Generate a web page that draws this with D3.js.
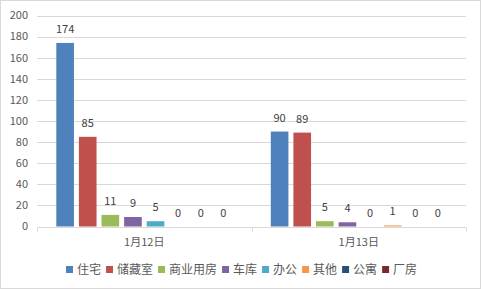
<!DOCTYPE html>
<html>
<head>
<meta charset="utf-8">
<script src="https://cdn.jsdelivr.net/npm/d3@7"></script>
<style>
  body { margin: 0; background: #fff; }
  svg { display: block; font-family: "Noto Sans CJK SC", "Noto Sans", sans-serif; }
</style>
</head>
<body>
<svg id="chart" width="481" height="289"></svg>
<script>
const dates = ["1月12日", "1月13日"];
const types = ["住宅", "储藏室", "商业用房", "车库", "办公", "其他", "公寓", "厂房"];
const jan12 = [174, 85, 11, 9, 5, 0, 0, 0];
const jan13 = [90, 89, 5, 4, 0, 1, 0, 0];
const yTicks = [0, 20, 40, 60, 80, 100, 120, 140, 160, 180, 200];
const colors = ["#4F81BD", "#C0504D", "#9BBB59", "#8064A2", "#4BACC6", "#F79646", "#2C4D75", "#772C2A"];

const values = [jan12, jan13];
const svg = d3.select("#chart");
const W = 481, H = 289;

// outer border
svg.append("rect")
  .attr("x", 0.5).attr("y", 0.5)
  .attr("width", W - 1).attr("height", H - 1)
  .attr("fill", "#fff").attr("stroke", "#d9d9d9");

const plotL = 37, plotR = 466, plotT = 15.5, plotB = 226.5;

const y = d3.scaleLinear().domain([0, 200]).range([plotB, plotT]);
const x0 = d3.scaleBand().domain(dates).range([plotL, plotR]);
const bw = x0.bandwidth();
const x1 = d3.scaleBand().domain(types)
  .range([bw * 0.09, bw * 0.91])
  .paddingInner(0.22);

// gridlines
svg.append("g")
  .selectAll("line")
  .data(yTicks.slice(1))
  .join("line")
  .attr("x1", plotL).attr("x2", plotR)
  .attr("y1", d => Math.round(y(d)) + 0.5)
  .attr("y2", d => Math.round(y(d)) + 0.5)
  .attr("stroke", "#d9d9d9");

// y labels
svg.append("g")
  .selectAll("text")
  .data(yTicks)
  .join("text")
  .attr("x", 28)
  .attr("y", d => y(d))
  .attr("dy", "0.35em")
  .attr("text-anchor", "end")
  .attr("font-size", 11)
  .attr("fill", "#595959")
  .text(d => d);

// bars
const groups = svg.append("g")
  .selectAll("g")
  .data(dates)
  .join("g")
  .attr("transform", d => `translate(${x0(d)},0)`);

groups.each(function(d, gi) {
  const g = d3.select(this);
  const rows = types.map((t, i) => ({ t, v: values[gi][i], c: colors[i] }));
  g.selectAll("rect")
    .data(rows)
    .join("rect")
    .attr("x", r => x1(r.t))
    .attr("width", x1.bandwidth())
    .attr("y", r => y(r.v))
    .attr("height", r => y(0) - y(r.v))
    .attr("fill", r => r.c);
  g.selectAll("text")
    .data(rows)
    .join("text")
    .attr("x", r => x1(r.t) + x1.bandwidth() / 2)
    .attr("y", r => y(r.v) - 10)
    .attr("text-anchor", "middle")
    .attr("font-size", 11)
    .attr("fill", "#404040")
    .text(r => r.v);
});

// x axis
const axisY = Math.round(plotB) + 0.5;
svg.append("line")
  .attr("x1", plotL).attr("x2", plotR)
  .attr("y1", axisY).attr("y2", axisY)
  .attr("stroke", "#d9d9d9");
svg.append("g")
  .selectAll("line")
  .data([plotL, plotL + bw, plotR])
  .join("line")
  .attr("x1", d => Math.round(d) + 0.5).attr("x2", d => Math.round(d) + 0.5)
  .attr("y1", axisY).attr("y2", axisY + 4)
  .attr("stroke", "#d9d9d9");
svg.append("g")
  .selectAll("text")
  .data(dates)
  .join("text")
  .attr("x", d => x0(d) + bw / 2)
  .attr("y", 242)
  .attr("dy", "0.35em")
  .attr("text-anchor", "middle")
  .attr("font-size", 11)
  .attr("fill", "#595959")
  .text(d => d);

// legend
const legend = svg.append("g");
const items = legend.selectAll("g")
  .data(types)
  .join("g");
items.append("rect")
  .attr("width", 7).attr("height", 7)
  .attr("y", 266)
  .attr("fill", (d, i) => colors[i]);
items.append("text")
  .attr("x", 11)
  .attr("y", 269.5)
  .attr("dy", "0.35em")
  .attr("font-size", 12)
  .attr("fill", "#595959")
  .text(d => d);
const widths = [];
items.each(function() {
  widths.push(d3.select(this).select("text").node().getComputedTextLength() + 11);
});
const gap = 5;
let lx = 66;
items.attr("transform", (d, i) => {
  const t = `translate(${lx},0)`;
  lx += widths[i] + gap;
  return t;
});
</script>
</body>
</html>
